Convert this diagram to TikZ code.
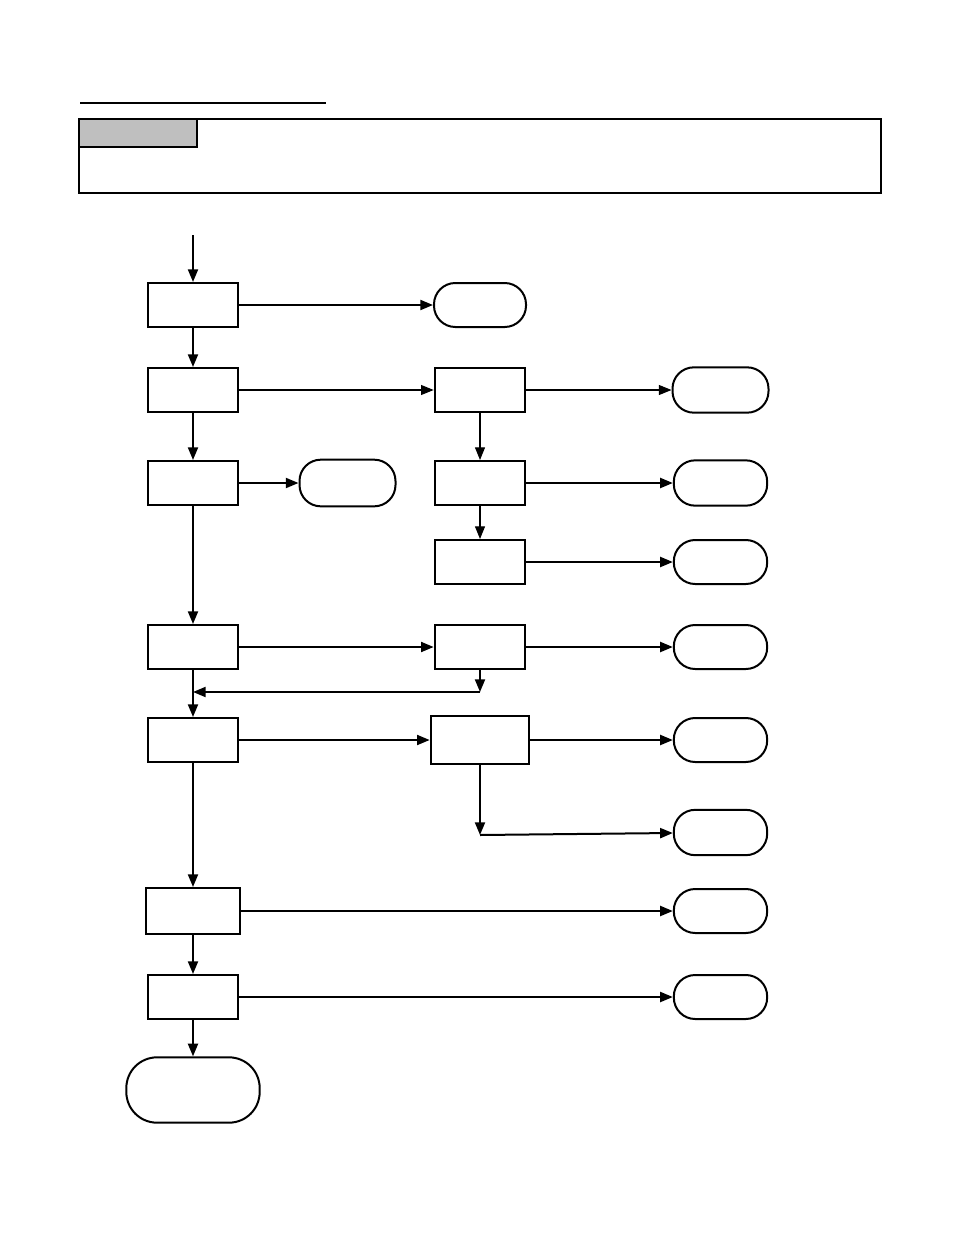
\documentclass[tikz,border=0pt]{standalone}
\usetikzlibrary{arrows.meta,positioning}
\tikzset{
  caja/.style={draw, line width=1.5pt, minimum width=68pt, minimum height=33pt, inner sep=0pt},
  term/.style={draw, line width=1.5pt, rounded corners=16pt, minimum width=70pt, minimum height=34pt, inner sep=0pt},
  fl/.style={-{Triangle[length=9.5pt,width=7.5pt]}, line width=1.5pt},
  flfino/.style={-{Triangle[length=9.5pt,width=7.5pt]}, line width=0.8pt},
}
\begin{document}
\begin{tikzpicture}[x=0.75pt,y=-0.75pt]
  \useasboundingbox (0,0) rectangle (954,1235);
  % cabecera
  \draw[line width=2.2pt] (80,103) -- (326,103);
  \draw[line width=1.5pt] (79,119) rectangle (881,193);
  \draw[line width=1pt, fill=black!25] (79,119) rectangle (197,147);
  % columna izquierda
  \coordinate (ent) at (193,235);
  \node[caja] (b1) at (193,305) {};
  \node[caja] (b2) at (193,390) {};
  \node[caja] (b3) at (193,483) {};
  \node[caja] (b4) at (193,647) {};
  \node[caja] (b5) at (193,740) {};
  \node[caja, minimum width=70pt, minimum height=34.5pt] (b6) at (193,911) {};
  \node[caja] (b7) at (193,997) {};
  \node[term, minimum width=100pt, minimum height=49pt, rounded corners=23pt] (fin) at (193,1090) {};
  % columna central
  \node[term, minimum width=69pt, minimum height=33pt] (t1) at (480,305) {};
  \node[term, minimum width=72pt, minimum height=35pt] (t3) at (347.5,483) {};
  \node[caja] (m1) at (480,390) {};
  \node[caja] (m2) at (480,483) {};
  \node[caja] (m3) at (480,562) {};
  \node[caja] (m4) at (480,647) {};
  \node[caja, minimum width=74pt, minimum height=36pt] (m5) at (480,740) {};
  \coordinate (j1) at (480,692);
  \coordinate (j2) at (480,835);
  % columna derecha
  \node[term, minimum width=72pt] (r1) at (720.5,390) {};
  \node[term] (r2) at (720.5,483) {};
  \node[term, minimum height=33pt] (r3) at (720.5,562) {};
  \node[term, minimum height=33pt] (r4) at (720.5,647) {};
  \node[term, minimum height=33pt] (r5) at (720.5,740) {};
  \node[term] (r6) at (720.5,832.5) {};
  \node[term, minimum height=33pt] (r7) at (720.5,911) {};
  \node[term, minimum height=33pt] (r8) at (720.5,997) {};
  % flechas
  \draw[fl] (ent) -- (b1);
  \draw[fl] (b1) -- (t1);
  \draw[fl] (b1) -- (b2);
  \draw[flfino] (b2) -- (m1);
  \draw[flfino] (m1) -- (r1);
  \draw[flfino] (m1) -- (m2);
  \draw[fl] (b2) -- (b3);
  \draw[fl] (b3) -- (t3);
  \draw[fl] (m2) -- (r2);
  \draw[flfino] (m2) -- (m3);
  \draw[fl] (m3) -- (r3);
  \draw[fl] (b3) -- (b4);
  \draw[fl] (b4) -- (m4);
  \draw[fl] (m4) -- (r4);
  \draw[fl] (m4) -- (j1);
  \draw[fl] (j1) -- (193,692);
  \draw[fl] (b4) -- (b5);
  \draw[fl] (b5) -- (m5);
  \draw[fl] (m5) -- (r5);
  \draw[fl] (m5) -- (j2);
  \draw[fl] (j2) -- (r6);
  \draw[fl] (b5) -- (b6);
  \draw[fl] (b6) -- (r7);
  \draw[fl] (b6) -- (b7);
  \draw[fl] (b7) -- (r8);
  \draw[fl] (b7) -- (fin);
\end{tikzpicture}
\end{document}
